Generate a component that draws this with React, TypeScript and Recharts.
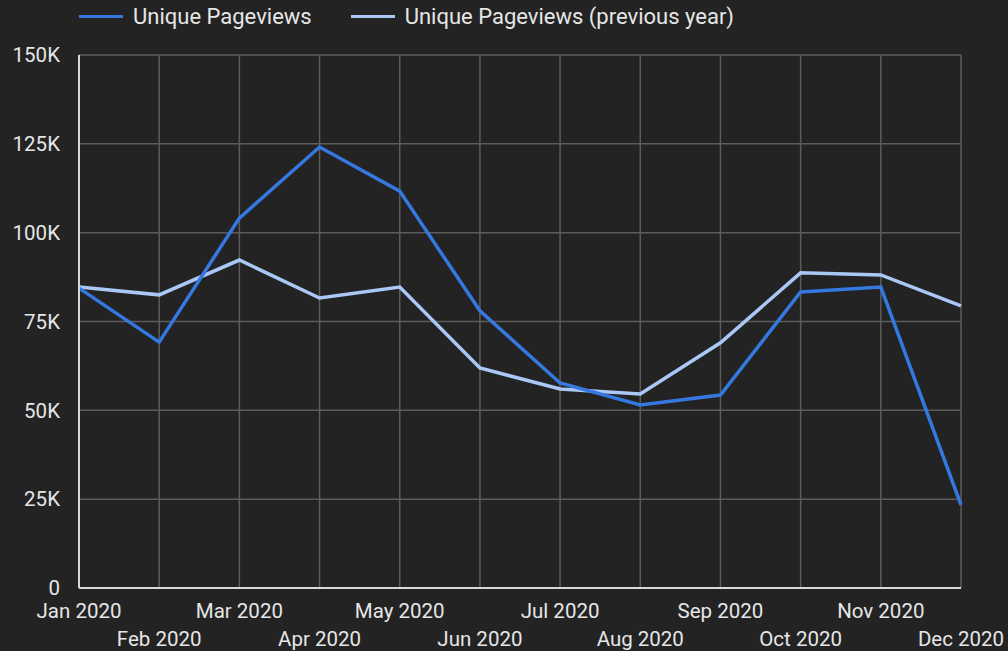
import React from 'react'
import { LineChart, Line, XAxis, YAxis, CartesianGrid, Legend } from 'recharts'

const months = [
  'Jan 2020', 'Feb 2020', 'Mar 2020', 'Apr 2020', 'May 2020', 'Jun 2020',
  'Jul 2020', 'Aug 2020', 'Sep 2020', 'Oct 2020', 'Nov 2020', 'Dec 2020'
]
const pageviews = [84400, 69200, 104100, 124100, 111700, 78000, 57700, 51500, 54300, 83300, 84700, 23400]
const pageviewsPrev = [84700, 82500, 92300, 81600, 84700, 61900, 56000, 54600, 69000, 88700, 88100, 79400]
const yTicks = [0, 25000, 50000, 75000, 100000, 125000, 150000]

const BG = '#232323'
const TEXT = '#e6e6e6'
const BLUE = '#3478e0'
const LIGHT = '#aac8f5'

const chartData = months.map((m, i) => ({
  month: m,
  current: pageviews[i],
  previous: pageviewsPrev[i]
}))

const formatY = (v: number): string => (v === 0 ? '0' : `${v / 1000}K`)

// two rows of month labels, alternating
const MonthTick = ({ x, y, payload, index }: any): React.JSX.Element => (
  <text
    x={x}
    y={y}
    dy={index % 2 === 0 ? 30 : 58}
    textAnchor="middle"
    fill={TEXT}
    fontSize={20.5}
    fontFamily="Roboto"
  >
    {payload.value}
  </text>
)

const LegendBox = (): React.JSX.Element => {
  const items = [
    { label: 'Unique Pageviews', color: BLUE },
    { label: 'Unique Pageviews (previous year)', color: LIGHT }
  ]
  return (
    <div style={{ height: 32, display: 'flex', alignItems: 'center', paddingLeft: 79 }}>
      {items.map((it) => (
        <div key={it.label} style={{ display: 'flex', alignItems: 'center', marginRight: 39 }}>
          <div style={{ width: 44, height: 3, background: it.color, marginRight: 10 }} />
          <span style={{ color: TEXT, fontSize: 22, fontFamily: 'Roboto' }}>{it.label}</span>
        </div>
      ))}
    </div>
  )
}

function App(): React.JSX.Element {
  return (
    <div style={{ position: 'fixed', left: 0, top: 0, width: 1008, height: 651, background: BG }}>
      <LineChart width={1008} height={651} data={chartData} margin={{ top: 23, right: 47, left: 0, bottom: 0 }}>
        <CartesianGrid stroke="#5c5c5c" strokeWidth={1.5} />
        <Legend verticalAlign="top" align="left" content={<LegendBox />} wrapperStyle={{ top: 0, left: 0 }} />
        <XAxis
          dataKey="month"
          interval={0}
          height={63}
          tickLine={false}
          tickSize={0}
          tickMargin={0}
          tick={<MonthTick />}
          axisLine={{ stroke: '#d8d8d8', strokeWidth: 2 }}
        />
        <YAxis
          width={79}
          domain={[0, 150000]}
          ticks={yTicks}
          tickFormatter={formatY}
          tickLine={false}
          tickSize={0}
          tickMargin={19}
          axisLine={{ stroke: '#d8d8d8', strokeWidth: 2 }}
          tick={{ fill: TEXT, fontSize: 20.5, fontFamily: 'Roboto' }}
        />
        <Line
          type="linear"
          dataKey="previous"
          name="Unique Pageviews (previous year)"
          stroke={LIGHT}
          strokeWidth={3.5}
          dot={false}
          isAnimationActive={false}
        />
        <Line
          type="linear"
          dataKey="current"
          name="Unique Pageviews"
          stroke={BLUE}
          strokeWidth={3.5}
          dot={false}
          isAnimationActive={false}
        />
      </LineChart>
    </div>
  )
}

export default App
